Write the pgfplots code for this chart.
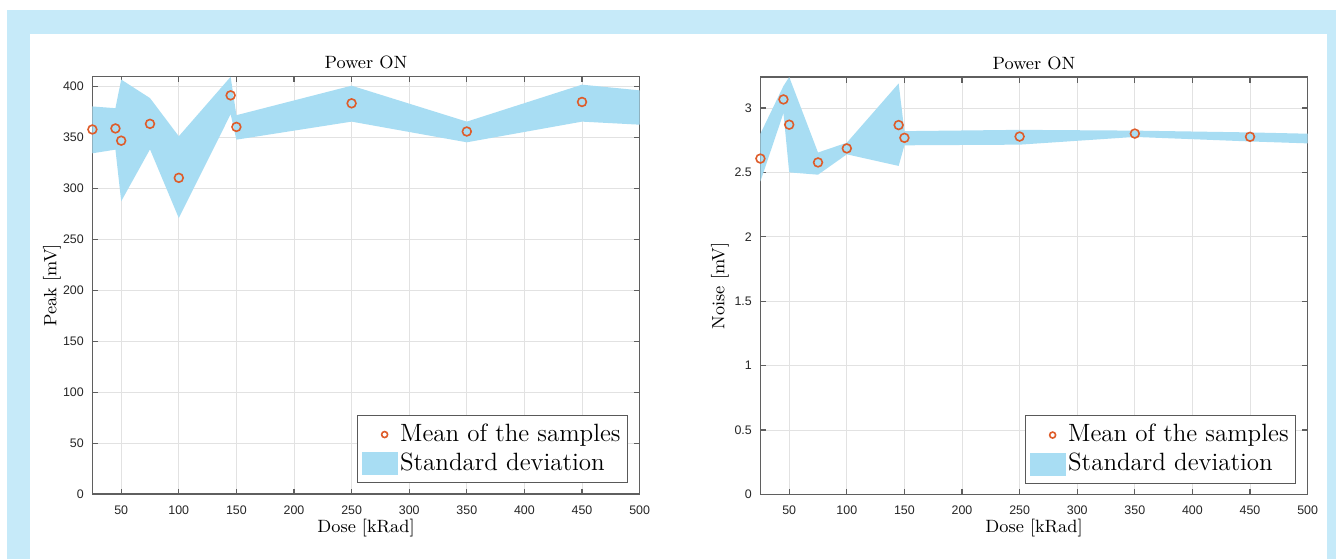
\documentclass[border=0pt]{standalone}
\usepackage{fontspec}
\usepackage{pgfplots}
\pgfplotsset{compat=1.18}
\newfontfamily\tickfont{Liberation Sans}
\definecolor{bgblue}{RGB}{198,234,249}
\definecolor{bandc}{RGB}{168,221,243}
\definecolor{meanc}{RGB}{222,92,42}
\definecolor{axc}{RGB}{95,95,95}
\definecolor{gridc}{RGB}{226,226,226}

\pgfplotsset{
 myaxis/.style={
  scale only axis, width=273.6pt, height=208.75pt,
  xmin=25, xmax=500, ymin=0,
  xtick={50,100,...,500},
  tick align=inside, major tick length=2.75pt,
  axis line style={axc, line width=0.8pt},
  tick style={axc, line width=0.6pt},
  grid=major, major grid style={gridc, line width=0.4pt},
  tick label style={font=\tickfont\fontsize{6.2}{7}\selectfont, text=black!85},
  /pgf/number format/assume math mode=true,
  xticklabel style={yshift=-2.2pt},
  yticklabel style={xshift=-0.8pt},
  title style={at={(axis description cs:0.5,1.004)}, anchor=center, font=\fontsize{8.9}{10}\selectfont},
  xlabel style={at={(axis description cs:0.5,-0.081)}, anchor=center, font=\fontsize{8.9}{10}\selectfont},
  ylabel style={at={(axis description cs:-0.074,0.5)}, anchor=center, font=\fontsize{8.9}{10}\selectfont},
  legend style={at={(0.978,0.026)}, anchor=south east, draw=black!65, line width=0.5pt,
    font=\fontsize{12.5}{14}\selectfont, inner xsep=2.2pt, inner ysep=2.3pt,
    row sep=0pt, column sep=0pt,
    nodes={inner xsep=1pt, inner ysep=0pt, text height=10.7pt, text depth=3.8pt}},
  legend cell align=left,
 },
 bandstyle/.style={fill=bandc, draw=none, forget plot},
 meanstyle/.style={only marks, mark=o, mark size=2.2pt, mark options={meanc, line width=0.8pt},
   legend image code/.code={\draw[##1, mark size=1.5pt] plot coordinates {(11pt,0pt)};}},
}

\begin{document}
\begin{tikzpicture}
\useasboundingbox (0,0) rectangle (668pt,-279.5pt);
\fill[white] (0,0) rectangle (668pt,-279.5pt);
\fill[bgblue] (3.5pt,-5pt) rectangle (668pt,-279.5pt);
\fill[white] (15pt,-17pt) rectangle (663.35pt,-279.5pt);

% ---------------- left ----------------
\begin{axis}[myaxis, at={(46.2pt,-247pt)}, anchor=south west,
  ymax=410, ytick={0,50,...,400},
  title={Power ON}, xlabel={Dose [kRad]}, ylabel={Peak [mV]}]
\addplot[bandstyle] coordinates {
 (25,380.6) (45,378.9) (50,407) (75,388.8) (100,351.3) (145,409.7) (150,372)
 (250,401) (350,365.7) (450,402) (500,396.4)
 (500,362.7) (450,365.7) (350,345.4) (250,365.7) (150,348) (145,373)
 (100,271) (75,338.5) (50,287.5) (45,338.2) (25,334.6)} -- cycle;
\addplot[meanstyle] coordinates {
 (25,358) (45,359) (50,347) (75,363.5) (100,310.5) (145,391.5) (150,360.5)
 (250,383.7) (350,356) (450,385)};
\addlegendentry{Mean of the samples}
\addlegendimage{legend image code/.code={\fill[bandc] (0pt,-5.5pt) rectangle (17.5pt,5.5pt);}}
\addlegendentry{Standard deviation}
\end{axis}

% ---------------- right ----------------
\begin{axis}[myaxis, at={(380.2pt,-247.25pt)}, anchor=south west,
  ymax=3.24, ytick={0,0.5,...,3},
  title={Power ON}, xlabel={Dose [kRad]}, ylabel={Noise [mV]}]
\addplot[bandstyle] coordinates {
 (25,2.80) (45,3.17) (50,3.24) (75,2.654) (100,2.73) (145,3.19) (150,2.82)
 (250,2.83) (350,2.824) (450,2.81) (500,2.80)
 (500,2.725) (450,2.74) (350,2.775) (250,2.715) (150,2.71) (145,2.55)
 (100,2.64) (75,2.482) (50,2.50) (45,2.96) (25,2.43)} -- cycle;
\addplot[meanstyle] coordinates {
 (25,2.607) (45,3.066) (50,2.87) (75,2.577) (100,2.686) (145,2.867) (150,2.768)
 (250,2.778) (350,2.801) (450,2.776)};
\addlegendentry{Mean of the samples}
\addlegendimage{legend image code/.code={\fill[bandc] (0pt,-5.5pt) rectangle (17.5pt,5.5pt);}}
\addlegendentry{Standard deviation}
\end{axis}
\end{tikzpicture}
\end{document}
